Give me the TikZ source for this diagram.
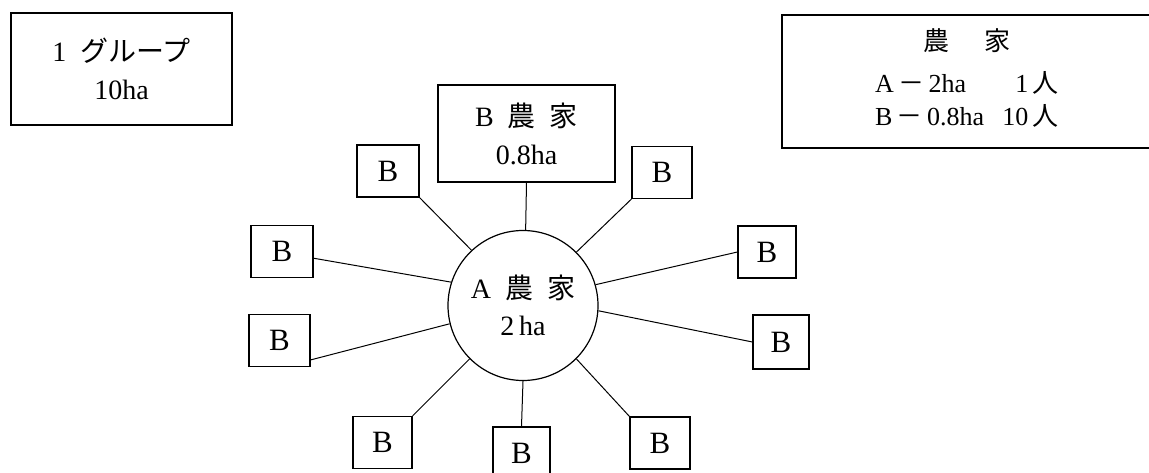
\documentclass[tikz,border=0pt]{standalone}
\usepackage{fontspec}
\setmainfont{Liberation Serif}
\newfontfamily\cjk{Noto Sans CJK JP}
\begin{document}
\begin{tikzpicture}[x=1pt,y=-1pt,
  box/.style={draw,line width=1.2pt,rectangle,inner sep=0pt,align=center,font=\fontsize{28}{38}\selectfont},
  bbox/.style={draw,line width=1.2pt,rectangle,inner sep=0pt,minimum width=60pt,minimum height=52pt,font=\fontsize{31}{32}\selectfont},
  link/.style={line width=1pt}]
\useasboundingbox (0,0) rectangle (1149,473);
\node[box,minimum width=221pt,minimum height=112pt] (g1) at (121.5,69) {1\enspace{\cjk グループ}\\10ha};
\node[draw,line width=1.2pt,rectangle,inner sep=0pt,minimum width=370pt,minimum height=133pt,font=\fontsize{26}{33}\selectfont] (leg) at (967,81.5)
  {\begin{tabular}{@{}l@{\hspace{0.7em}}r@{}}
   \multicolumn{2}{c}{{\cjk 農}\hspace{1.35em}{\cjk 家}}\\[9pt]
   A\,{\cjk －}\,2ha & 1\,{\cjk 人}\\
   B\,{\cjk －}\,0.8ha & 10\,{\cjk 人}
   \end{tabular}};
\node[draw,circle,line width=1.2pt,minimum size=150pt,inner sep=0pt,align=center,font=\fontsize{28}{37}\selectfont] (A) at (523,305.5)
  {A\enspace{\cjk 農}\enspace{\cjk 家}\\2\,ha};
\node[box,minimum width=177pt,minimum height=97pt] (Bt) at (526.5,133.5) {B\enspace{\cjk 農}\enspace{\cjk 家}\\0.8ha};
\node[bbox,minimum width=62pt] (b1) at (388,171) {B};
\node[bbox] (b2) at (662,172.5) {B};
\node[bbox,minimum width=62pt] (b3) at (282,251.5) {B};
\node[bbox,minimum width=61pt] (b4) at (279.5,340.5) {B};
\node[bbox,minimum width=58pt] (b5) at (767,252) {B};
\node[bbox,minimum width=56pt,minimum height=54pt] (b6) at (781,342) {B};
\node[bbox,minimum width=59pt] (b7) at (382.5,442.5) {B};
\node[bbox,minimum width=57pt] (b8) at (521.5,453) {B};
\node[bbox] (b9) at (660,443) {B};
\draw[link] (Bt.south) -- (A.88);
\draw[link] (b1.south east) -- (A.133);
\draw[link] (b2.south west) -- (A.45);
\draw[link] (b3.-12) -- (A.162);
\draw[link] (b4.-32) -- (A.194);
\draw[link] (b5.west) -- (A.16);
\draw[link] (b6.west) -- (A.-4);
\draw[link] (b7.north east) -- (A.225);
\draw[link] (b8.north) -- (A.south);
\draw[link] (b9.north west) -- (A.-45);
\end{tikzpicture}
\end{document}
